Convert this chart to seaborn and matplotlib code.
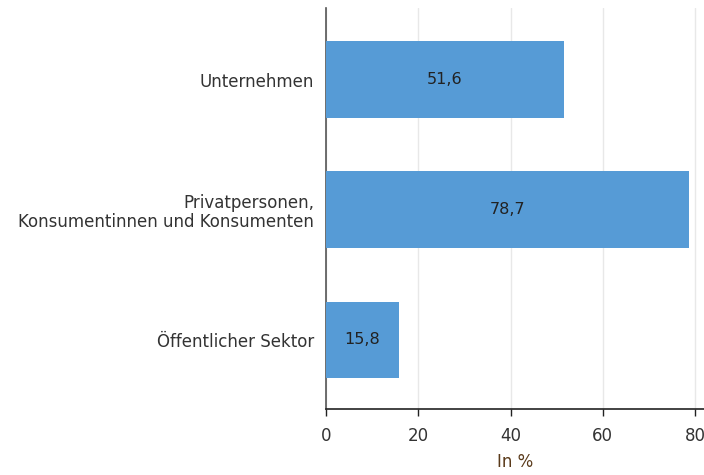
import matplotlib
matplotlib.use('Agg')
import matplotlib.pyplot as plt
import seaborn as sns
import pandas as pd

categories = ['Unternehmen', 'Privatpersonen,\nKonsumentinnen und Konsumenten', 'Öffentlicher Sektor']
values = [51.6, 78.7, 15.8]
value_labels = ['51,6', '78,7', '15,8']
x_ticks = [0, 20, 40, 60, 80]

df = pd.DataFrame({'Kategorie': categories, 'Wert': values})

sns.set_style('white')
plt.rcParams['font.family'] = ['DejaVu Sans']

fig = plt.figure(figsize=(7.04, 4.75), dpi=100)
ax = fig.add_axes([326 / 704, 66 / 475, 378 / 704, 401 / 475])

sns.barplot(data=df, y='Kategorie', x='Wert', color='#569BD6', width=0.59,
            saturation=1, linewidth=0, ax=ax, zorder=3)

for i, (v, lab) in enumerate(zip(values, value_labels)):
    ax.text(v / 2, i, lab, ha='center', va='center', fontsize=11.5, color='#222222', zorder=4)

ax.set_xlim(0, 81.95)
ax.set_ylim(2.53, -0.55)
ax.set_xticks(x_ticks)
ax.set_xticklabels([str(t) for t in x_ticks])
ax.grid(axis='x', color='#e8e8e8', linewidth=1, zorder=0)
ax.set_axisbelow(True)

for s in ['top', 'right']:
    ax.spines[s].set_visible(False)
ax.spines['left'].set_color('#555555')
ax.spines['left'].set_linewidth(1.2)
ax.spines['bottom'].set_color('#222222')
ax.spines['bottom'].set_linewidth(1.2)

ax.tick_params(axis='x', bottom=True, length=5, width=1, color='#222222',
               labelsize=12, labelcolor='#333333', pad=8)
ax.tick_params(axis='y', left=False, labelsize=12, labelcolor='#333333', pad=5)
for t in ax.get_yticklabels():
    t.set_multialignment('right')
    t.set_linespacing(1.1)

ax.set_ylabel('')
ax.set_xlabel('In %', fontsize=12, color='#5a3a1a', labelpad=6)

fig.savefig('out.png', dpi=100)
